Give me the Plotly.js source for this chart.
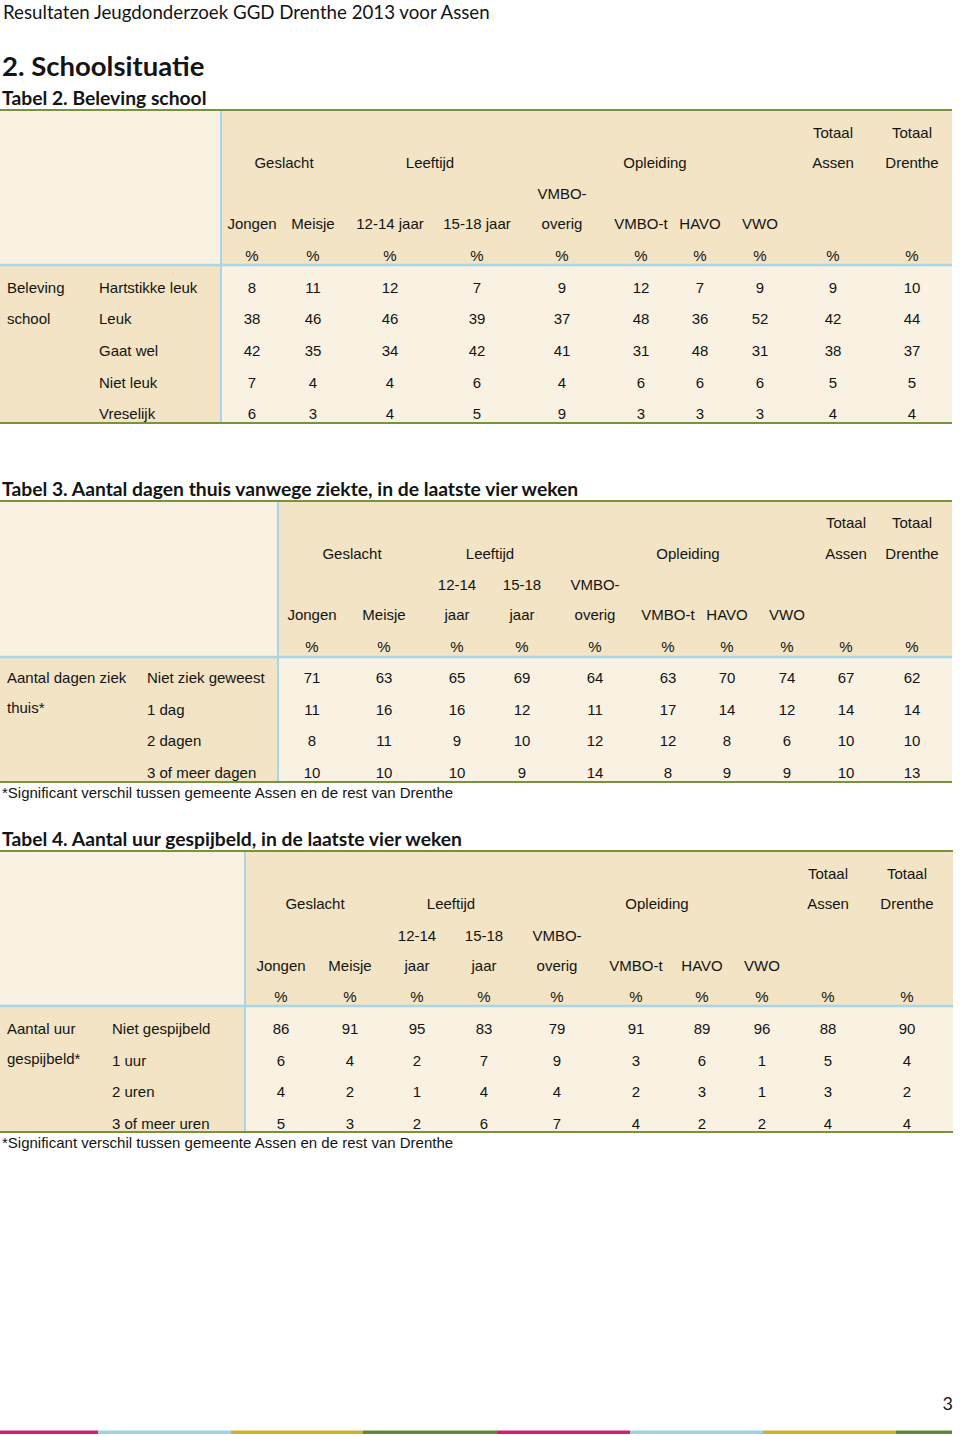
<!DOCTYPE html>
<html><head><meta charset="utf-8">
<script src="https://cdn.plot.ly/plotly-3.0.1.min.js"></script>
<style>html,body{margin:0;padding:0;background:#fff}#page{width:960px;height:1436px}</style>
</head><body><div id="page"></div>
<script>
// ---------------- DATA ----------------
const pageHeader = 'Resultaten Jeugdonderzoek GGD Drenthe 2013 voor Assen';
const sectionTitle = '2. Schoolsituatie';
const tableTitles = ['Tabel 2. Beleving school',
  'Tabel 3. Aantal dagen thuis vanwege ziekte, in de laatste vier weken',
  'Tabel 4. Aantal uur gespijbeld, in de laatste vier weken'];
const footnote = '*Significant verschil tussen gemeente Assen en de rest van Drenthe';
const pageNumber = '3';

const groupLabels = ['Geslacht', 'Leeftijd', 'Opleiding'];
const totalTop = ['Totaal', 'Totaal'];
const totalLabels = ['Assen', 'Drenthe'];
const unitLabels = ['%', '%', '%', '%', '%', '%', '%', '%', '%', '%'];

const t2HeadTop = ['', '', '', '', 'VMBO-', '', '', '', '', ''];
const t2HeadSub = ['Jongen', 'Meisje', '12-14 jaar', '15-18 jaar', 'overig', 'VMBO-t', 'HAVO', 'VWO', '', ''];
const t34HeadTop = ['', '', '12-14', '15-18', 'VMBO-', '', '', '', '', ''];
const t34HeadSub = ['Jongen', 'Meisje', 'jaar', 'jaar', 'overig', 'VMBO-t', 'HAVO', 'VWO', '', ''];

// Tabel 2
const t2Question = ['Beleving', 'school'];
const t2Categories = ['Hartstikke leuk', 'Leuk', 'Gaat wel', 'Niet leuk', 'Vreselijk'];
const t2HartstikkeLeuk = [8, 11, 12, 7, 9, 12, 7, 9, 9, 10];
const t2Leuk = [38, 46, 46, 39, 37, 48, 36, 52, 42, 44];
const t2GaatWel = [42, 35, 34, 42, 41, 31, 48, 31, 38, 37];
const t2NietLeuk = [7, 4, 4, 6, 4, 6, 6, 6, 5, 5];
const t2Vreselijk = [6, 3, 4, 5, 9, 3, 3, 3, 4, 4];

// Tabel 3
const t3Question = ['Aantal dagen ziek', 'thuis*'];
const t3Categories = ['Niet ziek geweest', '1 dag', '2 dagen', '3 of meer dagen'];
const t3NietZiek = [71, 63, 65, 69, 64, 63, 70, 74, 67, 62];
const t3EenDag = [11, 16, 16, 12, 11, 17, 14, 12, 14, 14];
const t3TweeDagen = [8, 11, 9, 10, 12, 12, 8, 6, 10, 10];
const t3DrieOfMeer = [10, 10, 10, 9, 14, 8, 9, 9, 10, 13];

// Tabel 4
const t4Question = ['Aantal uur', 'gespijbeld*'];
const t4Categories = ['Niet gespijbeld', '1 uur', '2 uren', '3 of meer uren'];
const t4NietGespijbeld = [86, 91, 95, 83, 79, 91, 89, 96, 88, 90];
const t4EenUur = [6, 4, 2, 7, 9, 3, 6, 1, 5, 4];
const t4TweeUren = [4, 2, 1, 4, 4, 2, 3, 1, 3, 2];
const t4DrieOfMeer = [5, 3, 2, 6, 7, 4, 2, 2, 4, 4];

// ---------------- LAYOUT CONFIG ----------------
const ARIAL = 'Liberation Sans, Arial, sans-serif';
const CAL = 'Lato, Carlito, Calibri, sans-serif';
const TXT = '#141414';
const TAN = '#f2e4c4';
const CREAM = '#f9f1e2';
const GREEN = '#77933c';
const BLUE = '#a9d5ea';
const DY_ARIAL = 2;   // vertical text nudge (px)
const DY_CAL = 3;

const tables = [
  { title: tableTitles[0], titleY: 97, top: 110, headBottom: 265, bottom: 423, split: 221, right: 952,
    hy: [132, 162, 193, 223, 255], rowsY: [287, 318, 350, 382, 413], lx1: 7, lx2: 99,
    colX: [252, 313, 390, 477, 562, 641, 700, 760, 833, 912], groupX: [284, 430, 655],
    headTop: t2HeadTop, headSub: t2HeadSub, question: t2Question, qY: [287, 318],
    cats: t2Categories, rows: [t2HartstikkeLeuk, t2Leuk, t2GaatWel, t2NietLeuk, t2Vreselijk], footY: null },
  { title: tableTitles[1], titleY: 488, top: 501, headBottom: 657, bottom: 782, split: 278, right: 952,
    hy: [522, 553, 584, 614, 646], rowsY: [677, 709, 740, 772], lx1: 7, lx2: 147,
    colX: [312, 384, 457, 522, 595, 668, 727, 787, 846, 912], groupX: [352, 490, 688],
    headTop: t34HeadTop, headSub: t34HeadSub, question: t3Question, qY: [677, 707],
    cats: t3Categories, rows: [t3NietZiek, t3EenDag, t3TweeDagen, t3DrieOfMeer], footY: 792 },
  { title: tableTitles[2], titleY: 838, top: 851, headBottom: 1006, bottom: 1132, split: 245, right: 953,
    hy: [873, 903, 935, 965, 996], rowsY: [1028, 1060, 1091, 1123], lx1: 7, lx2: 112,
    colX: [281, 350, 417, 484, 557, 636, 702, 762, 828, 907], groupX: [315, 451, 657],
    headTop: t34HeadTop, headSub: t34HeadSub, question: t4Question, qY: [1028, 1058],
    cats: t4Categories, rows: [t4NietGespijbeld, t4EenUur, t4TweeUren, t4DrieOfMeer], footY: 1142 }
];

const traces = [];
const shapes = [];

function txt(xs, ys, texts, pos, family, size, weight) {
  const dy = family === ARIAL ? DY_ARIAL : DY_CAL;
  traces.push({ type: 'scatter', mode: 'text', x: xs, y: ys.map(v => v + dy), text: texts,
    textposition: pos, hoverinfo: 'skip', cliponaxis: false,
    textfont: { family: family, size: size, color: TXT, weight: weight || 'normal' } });
}
function rect(x0, x1, y0, y1, color) {
  shapes.push({ type: 'rect', xref: 'x', yref: 'y', x0, x1, y0, y1, fillcolor: color, line: { width: 0 }, layer: 'below' });
}
function line(x0, x1, y0, y1, color, w) {
  shapes.push({ type: 'line', xref: 'x', yref: 'y', x0, x1, y0, y1, line: { color: color, width: w }, layer: 'above' });
}

// page texts
txt([3], [11], [pageHeader], 'middle right', CAL, 18.7);
txt([2], [66], [sectionTitle], 'middle right', CAL, 27.5, 'bold');

tables.forEach(t => {
  txt([2], [t.titleY], [t.title], 'middle right', CAL, 19.3, 'bold');
  // fills
  rect(0, t.split, t.top, t.headBottom, CREAM);
  rect(t.split, t.right, t.top, t.headBottom, TAN);
  rect(0, t.split, t.headBottom, t.bottom, TAN);
  rect(t.split, t.right, t.headBottom, t.bottom, CREAM);
  // lines
  line(t.split, t.split, t.top, t.bottom, BLUE, 2);
  line(0, t.right, t.headBottom, t.headBottom, BLUE, 2.5);
  line(0, t.right, t.top, t.top, GREEN, 2);
  line(0, t.right, t.bottom, t.bottom, GREEN, 2);
  // header
  const tc = t.colX.slice(8);
  txt(tc, [t.hy[0], t.hy[0]], totalTop, 'middle center', ARIAL, 15);
  txt(t.groupX.concat(tc), [t.hy[1], t.hy[1], t.hy[1], t.hy[1], t.hy[1]], groupLabels.concat(totalLabels), 'middle center', ARIAL, 15);
  txt(t.colX, t.colX.map(() => t.hy[2]), t.headTop, 'middle center', ARIAL, 15);
  txt(t.colX, t.colX.map(() => t.hy[3]), t.headSub, 'middle center', ARIAL, 15);
  txt(t.colX, t.colX.map(() => t.hy[4]), unitLabels, 'middle center', ARIAL, 15);
  // row labels
  txt(t.question.map(() => t.lx1), t.qY, t.question, 'middle right', ARIAL, 15);
  txt(t.cats.map(() => t.lx2), t.rowsY, t.cats, 'middle right', ARIAL, 15);
  // values
  t.rows.forEach((r, i) => {
    txt(t.colX, r.map(() => t.rowsY[i]), r.map(String), 'middle center', ARIAL, 15);
  });
  if (t.footY) txt([2], [t.footY], [footnote], 'middle right', ARIAL, 15);
});

// page number and decorative bottom bar
txt([953], [1402], [pageNumber], 'middle left', CAL, 18);
const barColors = ['#d41c7c', '#9fd0e8', '#c8b22e', '#5c8a3a'];
const barEdges = [0, 98, 231, 363, 497, 630, 763, 896, 952];
for (let i = 0; i < barEdges.length - 1; i++) rect(barEdges[i], barEdges[i + 1], 1430.5, 1434, barColors[i % 4]);

const layout = {
  width: 960, height: 1436, margin: { l: 0, r: 0, t: 0, b: 0 },
  paper_bgcolor: '#fff', plot_bgcolor: '#fff', showlegend: false,
  xaxis: { range: [0, 960], visible: false, fixedrange: true },
  yaxis: { range: [1436, 0], visible: false, fixedrange: true },
  shapes: shapes
};
Plotly.newPlot('page', traces, layout, { staticPlot: true, displayModeBar: false });
</script>
</body></html>
